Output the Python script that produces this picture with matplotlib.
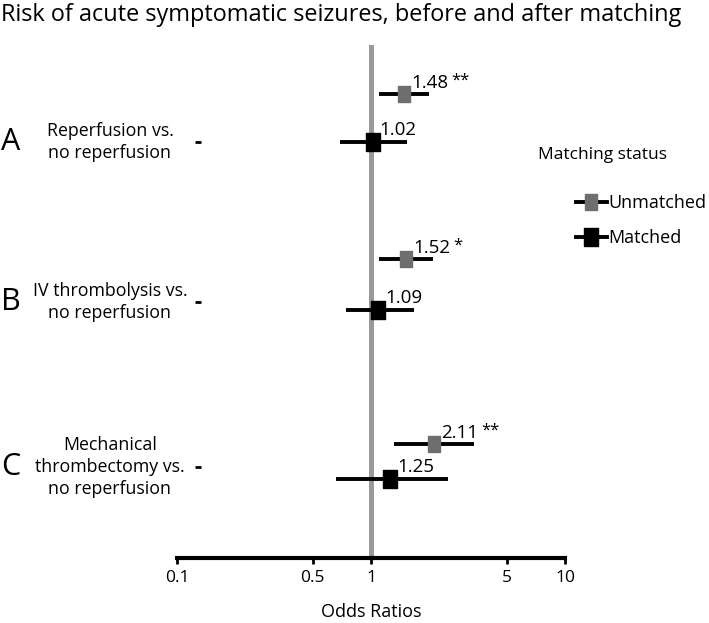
import matplotlib
matplotlib.use('Agg')
import matplotlib.pyplot as plt
import matplotlib.transforms as mtransforms
from matplotlib.lines import Line2D
import numpy as np

plt.rcParams['font.family'] = ['Open Sans', 'DejaVu Sans']

# data
letters = ['A', 'B', 'C']
comparisons = ['Reperfusion vs.\nno reperfusion',
               'IV thrombolysis vs.\nno reperfusion',
               'Mechanical\nthrombectomy vs.\nno reperfusion']
unmatched_or = [1.48, 1.52, 2.11]
unmatched_lo = [1.10, 1.10, 1.31]
unmatched_hi = [2.00, 2.09, 3.40]
unmatched_sig = ['**', '*', '**']
matched_or = [1.02, 1.09, 1.25]
matched_lo = [0.69, 0.74, 0.66]
matched_hi = [1.54, 1.67, 2.49]
xticks = [0.1, 0.5, 1, 5, 10]
xtick_labels = ['0.1', '0.5', '1', '5', '10']

# layout (row positions in pixel-like units, y axis inverted)
row_y = np.array([142, 302, 467])
unmatched_y = row_y - np.array([48, 43, 23])
matched_y = row_y + np.array([0, 8, 12])

W, H = 709, 623
fig = plt.figure(figsize=(W / 100, H / 100), dpi=100)
ax = fig.add_axes([177 / W, 1 - 558 / H, 388 / W, (558 - 45) / H])
ax.set_xscale('log')
ax.set_xlim(0.1, 10)
ax.set_ylim(558, 45)

rect = [(-0.72, -1), (0.72, -1), (0.72, 1), (-0.72, 1), (-0.72, -1)]

ax.axvline(1, color='#999999', lw=3.6, zorder=1)

ax.hlines(unmatched_y, unmatched_lo, unmatched_hi, color='black', lw=2.8, zorder=2)
ax.plot(unmatched_or, unmatched_y, ls='none', marker=rect, ms=12,
        color='#6e6e6e', zorder=3)
ax.hlines(matched_y, matched_lo, matched_hi, color='black', lw=2.8, zorder=2)
ax.plot(matched_or, matched_y, ls='none', marker=rect, ms=13.5,
        color='black', zorder=3)

for v, y, s in zip(unmatched_or, unmatched_y, unmatched_sig):
    t = ax.annotate(f'{v:.2f}', (v, y), xytext=(7, 6), textcoords='offset pixels',
                    va='baseline', ha='left', fontsize=13.5)
    ax.annotate(s, xy=(1, 1), xycoords=t, xytext=(3, 1), textcoords='offset pixels',
                va='top', ha='left', fontsize=12)
for v, y in zip(matched_or, matched_y):
    ax.annotate(f'{v:.2f}', (v, y), xytext=(7, 7), textcoords='offset pixels',
                va='baseline', ha='left', fontsize=13.5)

for sp in ['top', 'right']:
    ax.spines[sp].set_visible(False)
ax.spines['bottom'].set_linewidth(3)
ax.spines['left'].set_color('none')
ax.spines['left'].set_position(('data', 10 ** (-1 + 24 / 194)))

ax.set_xticks(xticks)
ax.set_xticklabels(xtick_labels, fontsize=12.5)
ax.xaxis.set_minor_locator(matplotlib.ticker.NullLocator())
ax.tick_params(axis='x', length=4, width=2, pad=5)
ax.set_yticks(row_y)
ax.set_yticklabels([])
ax.tick_params(axis='y', length=4.5, width=2)
ax.set_xlabel('Odds Ratios', fontsize=13, labelpad=12)

trans = mtransforms.blended_transform_factory(fig.transFigure, ax.transData)
for y, let, lab in zip(row_y, letters, comparisons):
    fig.text(1 / W, y, let, transform=trans, fontsize=22, ha='left', va='center')
    fig.text(110 / W, y, lab, transform=trans, fontsize=12.8, ha='center',
             va='center', multialignment='center', linespacing=1.3)

fig.text(1 / W, 1 - 15 / H, 'Risk of acute symptomatic seizures, before and after matching',
         fontsize=16.9, ha='left', va='center')

fig.text(538 / W, 1 - 155 / H, 'Matching status', fontsize=12.5, ha='left', va='center')
handles = [Line2D([], [], color='black', lw=2.8, marker=rect, ms=12, mfc='#6e6e6e', mec='#6e6e6e'),
           Line2D([], [], color='black', lw=2.8, marker=rect, ms=13.5, mfc='black', mec='black')]
fig.legend(handles, ['Unmatched', 'Matched'], loc='upper left',
           bbox_to_anchor=(576 / W, 1 - 194 / H), frameon=False, fontsize=13,
           handlelength=1.7, handletextpad=0.1, labelspacing=0.95,
           borderpad=0, borderaxespad=0)

fig.savefig('out.png', dpi=100)
